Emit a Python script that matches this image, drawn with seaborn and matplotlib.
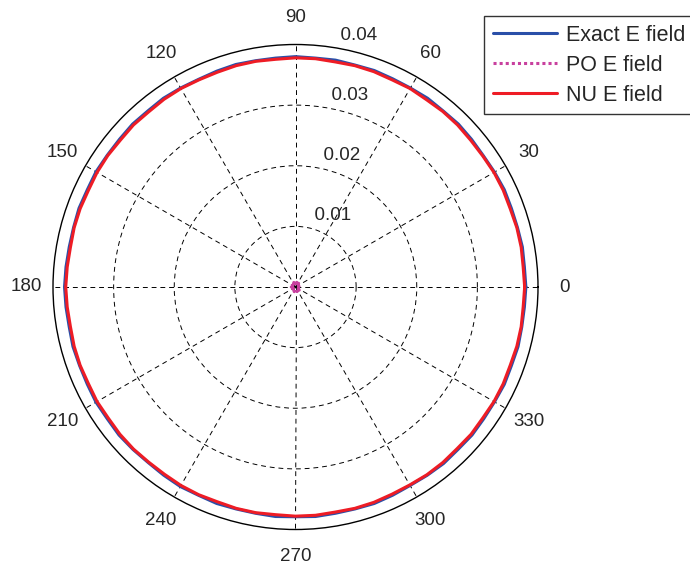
import numpy as np
import pandas as pd
import seaborn as sns
import matplotlib
matplotlib.use("Agg")
import matplotlib.pyplot as plt

# angles in degrees (every 5 deg)
angles = list(range(0, 361, 5))

# field magnitudes
exact_field = [
    0.0380, 0.0379, 0.0380, 0.0379, 0.0379, 0.0380, 0.0379, 0.0378, 0.0379, 0.0380,
    0.0379, 0.0380, 0.0379, 0.0379, 0.0380, 0.0379, 0.0380, 0.0379, 0.0380, 0.0379,
    0.0379, 0.0380, 0.0379, 0.0378, 0.0379, 0.0380, 0.0379, 0.0380, 0.0379, 0.0379,
    0.0380, 0.0379, 0.0380, 0.0379, 0.0379, 0.0380, 0.0381, 0.0380, 0.0379, 0.0380,
    0.0379, 0.0379, 0.0380, 0.0379, 0.0380, 0.0379, 0.0378, 0.0379, 0.0380, 0.0379,
    0.0380, 0.0379, 0.0379, 0.0380, 0.0379, 0.0380, 0.0379, 0.0379, 0.0380, 0.0379,
    0.0378, 0.0379, 0.0380, 0.0379, 0.0380, 0.0379, 0.0379, 0.0380, 0.0379, 0.0380,
    0.0379, 0.0379, 0.0380]
nu_field = [
    0.0378, 0.0377, 0.0378, 0.0378, 0.0377, 0.0378, 0.0378, 0.0377, 0.0377, 0.0378,
    0.0378, 0.0377, 0.0378, 0.0377, 0.0378, 0.0378, 0.0377, 0.0378, 0.0378, 0.0377,
    0.0378, 0.0378, 0.0377, 0.0377, 0.0378, 0.0378, 0.0377, 0.0378, 0.0377, 0.0378,
    0.0378, 0.0377, 0.0378, 0.0378, 0.0377, 0.0378, 0.0379, 0.0378, 0.0377, 0.0378,
    0.0378, 0.0377, 0.0378, 0.0377, 0.0378, 0.0378, 0.0377, 0.0377, 0.0378, 0.0378,
    0.0377, 0.0378, 0.0378, 0.0377, 0.0378, 0.0378, 0.0377, 0.0378, 0.0378, 0.0377,
    0.0377, 0.0378, 0.0378, 0.0377, 0.0378, 0.0377, 0.0378, 0.0378, 0.0377, 0.0378,
    0.0378, 0.0377, 0.0378]
po_field = [
    0.0007, 0.0006, 0.0005, 0.0006, 0.0008, 0.0007, 0.0005, 0.0004, 0.0006, 0.0007,
    0.0008, 0.0006, 0.0005, 0.0006, 0.0007, 0.0008, 0.0006, 0.0005, 0.0007, 0.0006,
    0.0005, 0.0006, 0.0008, 0.0007, 0.0005, 0.0004, 0.0006, 0.0007, 0.0008, 0.0006,
    0.0005, 0.0006, 0.0007, 0.0008, 0.0006, 0.0005, 0.0007, 0.0006, 0.0005, 0.0006,
    0.0008, 0.0007, 0.0005, 0.0004, 0.0006, 0.0007, 0.0008, 0.0006, 0.0005, 0.0006,
    0.0007, 0.0008, 0.0006, 0.0005, 0.0007, 0.0006, 0.0005, 0.0006, 0.0008, 0.0007,
    0.0005, 0.0004, 0.0006, 0.0007, 0.0008, 0.0006, 0.0005, 0.0006, 0.0007, 0.0008,
    0.0006, 0.0005, 0.0007]

ring_values = [0.01, 0.02, 0.03, 0.04]
angle_ticks = list(range(0, 360, 30))

sns.set_style("white")
plt.rcParams["font.family"] = ["Liberation Sans", "DejaVu Sans"]

theta = np.deg2rad(angles)
df = pd.concat([
    pd.DataFrame({"theta": theta, "r": exact_field, "series": "Exact E field"}),
    pd.DataFrame({"theta": theta, "r": po_field, "series": "PO E field"}),
    pd.DataFrame({"theta": theta, "r": nu_field, "series": "NU E field"}),
])

fig = plt.figure(figsize=(6.9, 5.7), dpi=100)
ax = fig.add_axes([53 / 690, 40.5 / 570, 485 / 690, 485 / 570], projection="polar")

palette = {"Exact E field": "#2a4fa8", "PO E field": "#c8409e", "NU E field": "#ee1c25"}
sns.lineplot(data=df, x="theta", y="r", hue="series", style="series",
             palette=palette, sort=False, estimator=None, ax=ax,
             dashes={"Exact E field": "", "PO E field": (1, 1), "NU E field": ""},
             linewidth=2.2)

ax.set_rlim(0, 0.04)
ax.set_rticks(ring_values[:-1])
ax.set_yticklabels([])
ax.set_thetagrids(angle_ticks, labels=[""] * len(angle_ticks))
ax.grid(True, color="black", linestyle=(0, (5, 4)), linewidth=0.7)
ax.spines["polar"].set_color("black")
ax.spines["polar"].set_linewidth(1.0)
ax.set_xlabel("")
ax.set_ylabel("")

for a in angle_ticks:
    ax.text(np.deg2rad(a), 0.0444, str(a), ha="center", va="center",
            fontsize=13.5, clip_on=False)

for rv in ring_values:
    ax.text(np.deg2rad(82), rv + 0.0005, "  " + str(rv), ha="left", va="bottom",
            fontsize=13.5, clip_on=False)

handles, labels = ax.get_legend_handles_labels()
ax.get_legend().remove()
leg = fig.legend(handles, labels, loc="upper left",
                 bbox_to_anchor=(484 / 690, 1 - 16 / 570), fontsize=15.5,
                 frameon=True, fancybox=False, edgecolor="black",
                 borderaxespad=0, handlelength=3.0, labelspacing=0.42,
                 borderpad=0.4, handletextpad=0.4)
leg.get_frame().set_linewidth(1.0)

fig.savefig("out.png", dpi=100)
